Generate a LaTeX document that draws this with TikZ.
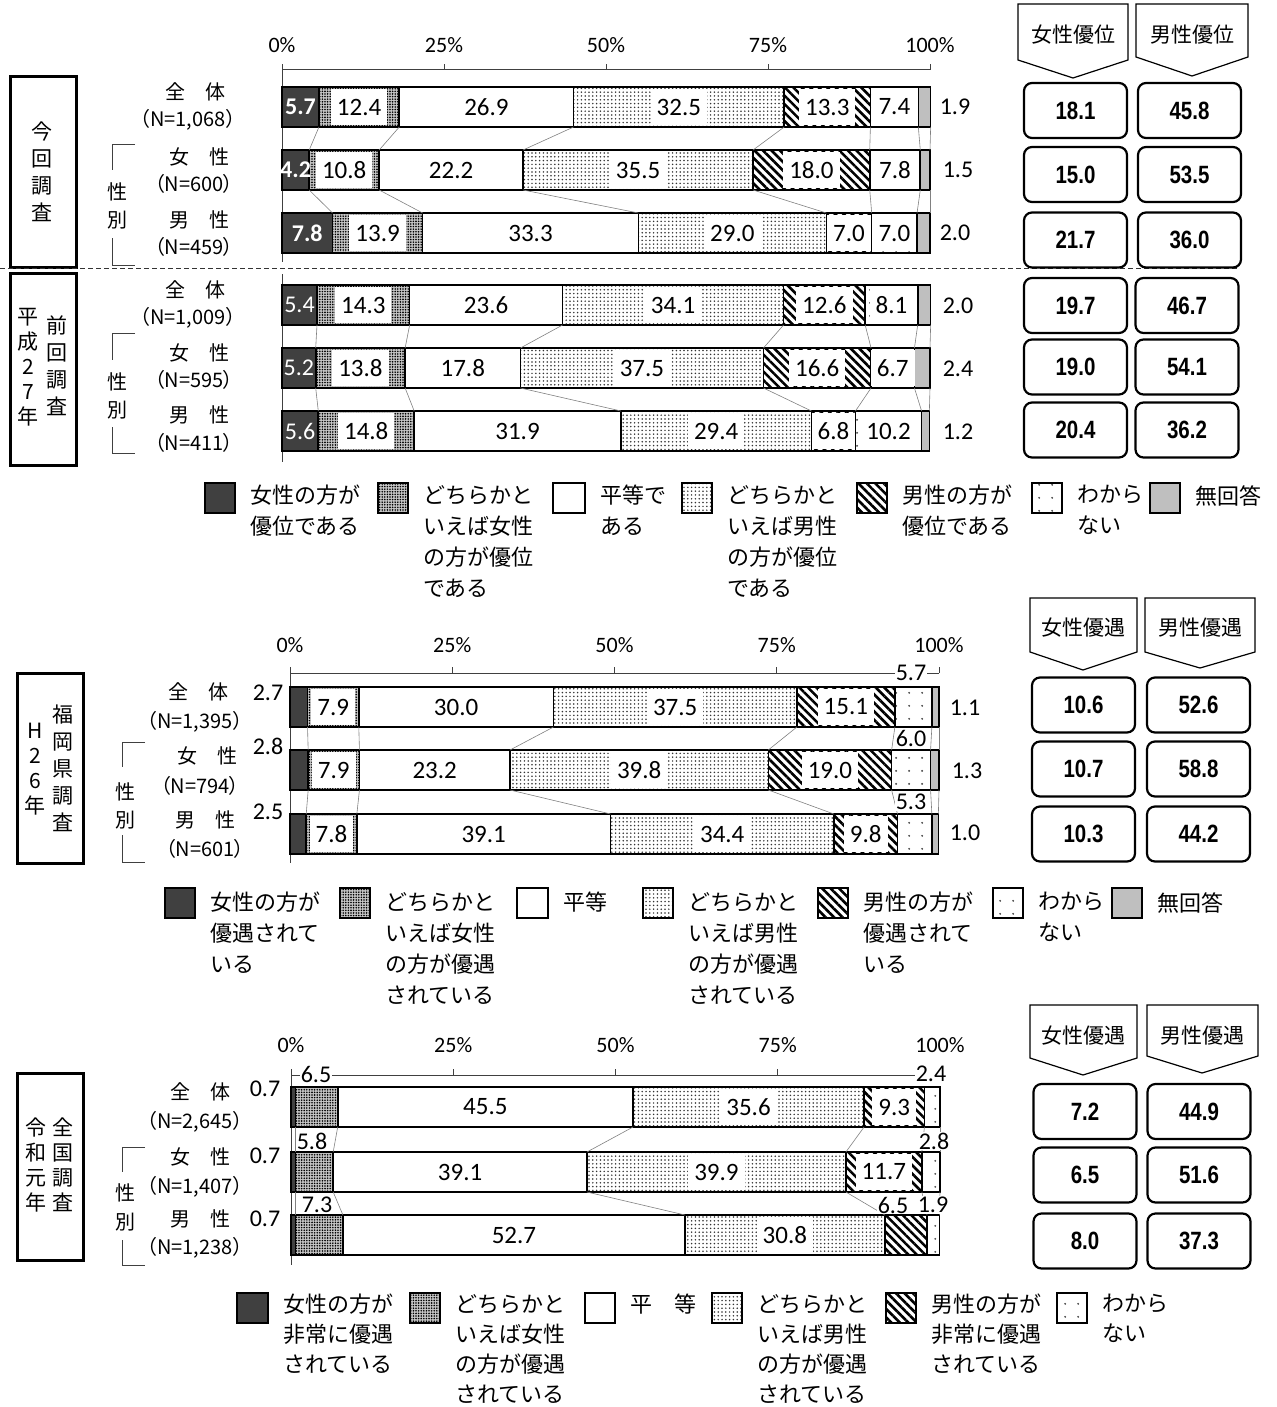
\documentclass[tikz,border=0pt]{standalone}
\usepackage{fontspec}
\usetikzlibrary{patterns.meta}
\newfontfamily\jpf{Noto Sans CJK JP}
\newfontfamily\jpp{Noto Sans CJK JP}[RawFeature=+palt]
\newfontfamily\numf{Carlito}
\newfontfamily\bnumf{Liberation Sans}[FakeStretch=0.82]
\newcommand\fsz[1]{\fontsize{#1}{#1}\selectfont}
\newcommand\barrow[5]{%
  \gdef\cumprev{0}%
  \foreach \v [count=\k] in {#5} {%
    \pgfmathsetmacro\cumnew{\cumprev+\v}%
    \pgfmathsetmacro\xa{#2+\cumprev*\sc}%
    \pgfmathsetmacro\xb{#2+\cumnew*\sc}%
    \draw[seg\k] (\xa,#3) rectangle (\xb,#4);%
    \coordinate (#1-t\k) at (\xb,#3);%
    \coordinate (#1-b\k) at (\xb,#4);%
    \coordinate (#1-c\k) at ({(\xa+\xb)/2},{(#3+#4)/2});%
    \xdef\cumprev{\cumnew}%
  }%
}
\tikzset{
 bl/.style={draw=black, line width=1.6pt},
 seg1/.style={bl, fill=black!75},
 seg2/.style={preaction={fill=black!22}, preaction={pattern={Dots[distance=2.6pt,radius=0.9pt]}, pattern color=black}, bl},
 seg3/.style={bl, fill=white},
 seg4/.style={preaction={fill=white}, preaction={pattern={Dots[distance=3.8pt,radius=0.85pt]}, pattern color=black!80}, bl},
 seg5/.style={preaction={fill=white}, preaction={pattern={Lines[angle=-45,distance=6pt,line width=2.6pt]}, pattern color=black}, bl},
 seg6/.style={preaction={fill=white}, preaction={pattern={Dots[distance=13pt,radius=1.1pt]}, pattern color=black!70}, bl},
 seg7/.style={bl, fill=black!25},
 sline/.style={draw=black!50, line width=0.6pt},
 lb/.style={font=\numf\fsz{25}, fill=white, inner xsep=6pt, inner ysep=0pt, minimum height=36pt},
 lbw/.style={font=\numf\bfseries\fsz{24}, text=white, inner sep=0pt},
 lbd/.style={font=\numf\fsz{24}, text=white, inner sep=0pt},
 ol/.style={font=\numf\fsz{24}, inner sep=1pt},
 olb/.style={font=\numf\fsz{24}, inner sep=1pt, fill=white},
 ax/.style={font=\numf\fsz{22}, inner sep=0pt},
 axl/.style={draw=black!75, line width=1pt},
 rl/.style={font=\jpf\fsz{20}, inner sep=0pt},
 nl/.style={font=\jpp\fsz{20}, inner sep=0pt},
 vt/.style={font=\jpf\fontsize{21}{27}\selectfont, align=center, inner sep=0pt},
 vts/.style={font=\jpf\fontsize{21}{25}\selectfont, align=center, inner sep=0pt},
 lbox/.style={draw=black, line width=3pt},
 brk/.style={draw=black!75, line width=1pt},
 lgt/.style={font=\jpf\fontsize{22}{31}\selectfont, align=left, anchor=north west, inner sep=0pt},
 lgs/.style={font=\jpf\fontsize{22}{30}\selectfont, align=left, anchor=north west, inner sep=0pt},
 hdr/.style={draw=black, line width=1.2pt, fill=white},
 hdt/.style={font=\jpf\fsz{21}, inner sep=0pt},
 vbox/.style={draw=black, line width=2.2pt, rounded corners=8pt, minimum width=103pt, minimum height=55pt, font=\bnumf\bfseries\fsz{25}, inner sep=0pt},
 dsh/.style={draw=black!80, line width=1pt, dash pattern=on 5pt off 3pt},
}
\begin{document}
\begin{tikzpicture}[x=1pt,y=-1pt]
\useasboundingbox (0,0) rectangle (1276,1407);
% ================= SECTION 1 =================
\def\sc{6.48}
\foreach \p/\t in {0/0\%,25/25\%,50/50\%,75/75\%,100/100\%}{
  \node[ax] (s1ax\p) at ({282+\p*\sc},45) {\t};
  \draw[axl] ({282+\p*\sc},70) -- ({282+\p*\sc},64);
}
\draw[axl] (282,70) -- (930,70);
\draw[axl] (282,70) -- (282,262);
\draw[axl] (282,274) -- (282,462);
\barrow{a1}{282}{87}{127}{5.7,12.4,26.9,32.5,13.3,7.4,1.9}
\barrow{a2}{282}{150}{190}{4.2,10.8,22.2,35.5,18.0,7.8,1.5}
\barrow{a3}{282}{213}{253}{7.8,13.9,33.3,29.0,7.0,7.0,2.0}
\barrow{a4}{282}{285}{325}{5.4,14.3,23.6,34.1,12.6,8.1,2.0}
\barrow{a5}{282}{348}{388}{5.2,13.8,17.8,37.5,16.6,6.7,2.4}
\barrow{a6}{282}{411}{451}{5.6,14.8,31.9,29.4,6.8,10.2,1.2}
% ================= SECTION 2 =================
\def\sc{6.49}
\foreach \p/\t in {0/0\%,25/25\%,50/50\%,75/75\%,100/100\%}{
  \node[ax] (s2ax\p) at ({290+\p*\sc},645) {\t};
  \draw[axl] ({290+\p*\sc},673) -- ({290+\p*\sc},667);
}
\draw[axl] (290,673) -- (939,673);
\draw[axl] (290,673) -- (290,863);
\barrow{b1}{290}{687}{727}{2.7,7.9,30.0,37.5,15.1,5.7,1.1}
\barrow{b2}{290}{750}{790}{2.8,7.9,23.2,39.8,19.0,6.0,1.3}
\barrow{b3}{290}{814}{854}{2.5,7.8,39.1,34.4,9.8,5.3,1.0}
% ================= SECTION 3 =================
\foreach \p/\t in {0/0\%,25/25\%,50/50\%,75/75\%,100/100\%}{
  \node[ax] (s3ax\p) at ({291+\p*\sc},1045) {\t};
  \draw[axl] ({291+\p*\sc},1075) -- ({291+\p*\sc},1069);
}
\draw[axl] (291,1075) -- (940,1075);
\draw[axl] (291,1075) -- (291,1265);
\barrow{c1}{291}{1087}{1127}{0.7,6.5,45.5,35.6,9.3,2.4}
\barrow{c2}{291}{1152}{1192}{0.7,5.8,39.1,39.9,11.7,2.8}
\barrow{c3}{291}{1215}{1255}{0.7,7.3,52.7,30.8,6.5,1.9}
% series lines
\foreach \p/\q in {a1/a2,a2/a3,a4/a5,a5/a6,b1/b2,b2/b3}{
  \foreach \k in {1,...,7}{\draw[sline] (\p-b\k) -- (\q-t\k);}
}
\foreach \p/\q in {c1/c2,c2/c3}{
  \foreach \k in {1,...,6}{\draw[sline] (\p-b\k) -- (\q-t\k);}
}
% labels section 1
\node[lbw] (la11) at (a1-c1) {5.7};
\node[lb] (la12) at (a1-c2) {12.4};
\node[lb] (la13) at (a1-c3) {26.9};
\node[lb] (la14) at (a1-c4) {32.5};
\node[lb] (la15) at (a1-c5) {13.3};
\node[lb] (la16) at (a1-c6) {7.4};
\node[ol] (la17) at (955,107) {1.9};
\node[lbw] (la21) at (a2-c1) {4.2};
\node[lb] (la22) at (a2-c2) {10.8};
\node[lb] (la23) at (a2-c3) {22.2};
\node[lb] (la24) at (a2-c4) {35.5};
\node[lb] (la25) at (a2-c5) {18.0};
\node[lb] (la26) at (a2-c6) {7.8};
\node[ol] (la27) at (958,170) {1.5};
\node[lbw] (la31) at (a3-c1) {7.8};
\node[lb] (la32) at (a3-c2) {13.9};
\node[lb] (la33) at (a3-c3) {33.3};
\node[lb] (la34) at (a3-c4) {29.0};
\node[lb] (la35) at (a3-c5) {7.0};
\node[lb] (la36) at (a3-c6) {7.0};
\node[ol] (la37) at (955,233) {2.0};
\node[lbd] (la41) at (a4-c1) {5.4};
\node[lb] (la42) at (a4-c2) {14.3};
\node[lb] (la43) at (a4-c3) {23.6};
\node[lb] (la44) at (a4-c4) {34.1};
\node[lb] (la45) at (a4-c5) {12.6};
\node[lb] (la46) at (a4-c6) {8.1};
\node[ol] (la47) at (958,306) {2.0};
\node[lbd] (la51) at (a5-c1) {5.2};
\node[lb] (la52) at (a5-c2) {13.8};
\node[lb] (la53) at (a5-c3) {17.8};
\node[lb] (la54) at (a5-c4) {37.5};
\node[lb] (la55) at (a5-c5) {16.6};
\node[lb] (la56) at (a5-c6) {6.7};
\node[ol] (la57) at (958,369) {2.4};
\node[lbd] (la61) at (a6-c1) {5.6};
\node[lb] (la62) at (a6-c2) {14.8};
\node[lb] (la63) at (a6-c3) {31.9};
\node[lb] (la64) at (a6-c4) {29.4};
\node[lb] (la65) at (a6-c5) {6.8};
\node[lb] (la66) at (a6-c6) {10.2};
\node[ol] (la67) at (958,432) {1.2};
% labels section 2
\node[ol] (lb11) at (268,693) {2.7};
\node[lb] (lb12) at (b1-c2) {7.9};
\node[lb] (lb13) at (b1-c3) {30.0};
\node[lb] (lb14) at (b1-c4) {37.5};
\node[lb] (lb15) at (b1-c5) {15.1};
\node[olb] (lb16) at (911,673) {5.7};
\node[ol] (lb17) at (965,708) {1.1};
\node[ol] (lb21) at (268,746) {2.8};
\node[lb] (lb22) at (b2-c2) {7.9};
\node[lb] (lb23) at (b2-c3) {23.2};
\node[lb] (lb24) at (b2-c4) {39.8};
\node[lb] (lb25) at (b2-c5) {19.0};
\node[olb] (lb26) at (911,738) {6.0};
\node[ol] (lb27) at (967,771) {1.3};
\node[ol] (lb31) at (268,812) {2.5};
\node[lb] (lb32) at (b3-c2) {7.8};
\node[lb] (lb33) at (b3-c3) {39.1};
\node[lb] (lb34) at (b3-c4) {34.4};
\node[lb] (lb35) at (b3-c5) {9.8};
\node[olb] (lb36) at (911,802) {5.3};
\node[ol] (lb37) at (965,833) {1.0};
% labels section 3
\node[ol] (lc11) at (265,1089) {0.7};
\node[olb] (lc12) at (316,1074) {6.5};
\node[lb] (lc13) at (c1-c3) {45.5};
\node[lb] (lc14) at (c1-c4) {35.6};
\node[lb] (lc15) at (c1-c5) {9.3};
\node[olb] (lc16) at (931,1074) {2.4};
\node[ol] (lc21) at (265,1156) {0.7};
\node[olb] (lc22) at (312,1141) {5.8};
\node[lb] (lc23) at (c2-c3) {39.1};
\node[lb] (lc24) at (c2-c4) {39.9};
\node[lb] (lc25) at (c2-c5) {11.7};
\node[olb] (lc26) at (934,1141) {2.8};
\node[ol] (lc31) at (265,1219) {0.7};
\node[olb] (lc32) at (317,1205) {7.3};
\node[lb] (lc33) at (c3-c3) {52.7};
\node[lb] (lc34) at (c3-c4) {30.8};
\node[olb] (lc35) at (893,1205) {6.5};
\node[olb] (lc36) at (933,1205) {1.9};
% ============ left boxes and row labels ============
\draw[lbox] (10,77) rectangle (76,267);
\node[vt] (t1) at (42,172) {今\\回\\調\\査};
\draw[lbox] (10,273) rectangle (76,465);
\node[vts] (t2a) at (28,367) {平\\成\\2\\7\\年};
\node[vt] (t2b) at (57,366) {前\\回\\調\\査};
\draw[dsh] (0,268) -- (1238,268);
\node[rl] (r1a) at (195,92) {全　体};
\node[nl] (r1b) at (188,120) {（N=1,068）};
\node[rl] (r1c) at (199,157) {女　性};
\node[nl] (r1d) at (194,184) {（N=600）};
\node[rl] (r1e) at (199,220) {男　性};
\node[nl] (r1f) at (194,247) {（N=459）};
\draw[brk] (135,145) -- (112,145) -- (112,170);
\draw[brk] (112,238) -- (112,265) -- (135,265);
\node[rl] (g1a) at (117,192) {性};
\node[rl] (g1b) at (117,220) {別};
\node[rl] (r2a) at (195,290) {全　体};
\node[nl] (r2b) at (188,318) {（N=1,009）};
\node[rl] (r2c) at (199,353) {女　性};
\node[nl] (r2d) at (194,380) {（N=595）};
\node[rl] (r2e) at (199,415) {男　性};
\node[nl] (r2f) at (194,443) {（N=411）};
\draw[brk] (135,333) -- (112,333) -- (112,360);
\draw[brk] (112,427) -- (112,453) -- (135,453);
\node[rl] (g2a) at (117,382) {性};
\node[rl] (g2b) at (117,410) {別};
% section 2 left
\draw[lbox] (17,673) rectangle (83,863);
\node[vts] (t3a) at (35,769) {H\\2\\6\\年};
\node[vt] (t3b) at (63,768) {福\\岡\\県\\調\\査};
\node[rl] (r3a) at (198,692) {全　体};
\node[nl] (r3b) at (195,722) {（N=1,395）};
\node[rl] (r3c) at (207,756) {女　性};
\node[nl] (r3d) at (200,786) {（N=794）};
\node[rl] (r3e) at (205,820) {男　性};
\node[nl] (r3f) at (205,849) {（N=601）};
\draw[brk] (145,742) -- (122,742) -- (122,767);
\draw[brk] (122,835) -- (122,862) -- (145,862);
\node[rl] (g3a) at (125,792) {性};
\node[rl] (g3b) at (125,820) {別};
% section 3 left
\draw[lbox] (17,1073) rectangle (83,1260);
\node[vts] (t4a) at (36,1165) {令\\和\\元\\年};
\node[vts] (t4b) at (63,1165) {全\\国\\調\\査};
\node[rl] (r4a) at (200,1092) {全　体};
\node[nl] (r4b) at (195,1122) {（N=2,645）};
\node[rl] (r4c) at (200,1157) {女　性};
\node[nl] (r4d) at (195,1187) {（N=1,407）};
\node[rl] (r4e) at (200,1219) {男　性};
\node[nl] (r4f) at (195,1248) {（N=1,238）};
\draw[brk] (145,1147) -- (122,1147) -- (122,1172);
\draw[brk] (122,1240) -- (122,1265) -- (145,1265);
\node[rl] (g4a) at (125,1193) {性};
\node[rl] (g4b) at (125,1222) {別};
% ============ right headers and boxes ============
\draw[hdr] (1018,4) -- (1128,4) -- (1128,60) -- (1073,78) -- (1018,60) -- cycle;
\node[hdt] (h1a) at (1073,35) {女性優位};
\draw[hdr] (1136,4) -- (1248,4) -- (1248,57) -- (1192,76) -- (1136,57) -- cycle;
\node[hdt] (h1b) at (1192,35) {男性優位};
\node[vbox] (v11) at (1075.5,110.5) {18.1};
\node[vbox] (v12) at (1189.5,110.5) {45.8};
\node[vbox] (v21) at (1075.5,174.5) {15.0};
\node[vbox] (v22) at (1189.5,174.5) {53.5};
\node[vbox] (v31) at (1075.5,240) {21.7};
\node[vbox] (v32) at (1189.5,240) {36.0};
\node[vbox] (v41) at (1075.5,305.5) {19.7};
\node[vbox] (v42) at (1187,305.5) {46.7};
\node[vbox] (v51) at (1075.5,367) {19.0};
\node[vbox] (v52) at (1187,367) {54.1};
\node[vbox] (v61) at (1075.5,430) {20.4};
\node[vbox] (v62) at (1187,430) {36.2};
\draw[hdr] (1030,598) -- (1137,598) -- (1137,652) -- (1083,670) -- (1030,652) -- cycle;
\node[hdt] (h2a) at (1083,628) {女性優遇};
\draw[hdr] (1145,598) -- (1255,598) -- (1255,652) -- (1200,668) -- (1145,652) -- cycle;
\node[hdt] (h2b) at (1200,628) {男性優遇};
\node[vbox] (w11) at (1083.5,705) {10.6};
\node[vbox] (w12) at (1198.5,705) {52.6};
\node[vbox] (w21) at (1083.5,769) {10.7};
\node[vbox] (w22) at (1198.5,769) {58.8};
\node[vbox] (w31) at (1083.5,834) {10.3};
\node[vbox] (w32) at (1198.5,834) {44.2};
\draw[hdr] (1030,1005) -- (1137,1005) -- (1137,1058) -- (1083,1075) -- (1030,1058) -- cycle;
\node[hdt] (h3a) at (1083,1036) {女性優遇};
\draw[hdr] (1147,1005) -- (1258,1005) -- (1258,1056) -- (1202,1073) -- (1147,1056) -- cycle;
\node[hdt] (h3b) at (1202,1036) {男性優遇};
\node[vbox] (x11) at (1085,1111.5) {7.2};
\node[vbox] (x12) at (1199,1111.5) {44.9};
\node[vbox] (x21) at (1085,1175) {6.5};
\node[vbox] (x22) at (1199,1175) {51.6};
\node[vbox] (x31) at (1085,1241) {8.0};
\node[vbox] (x32) at (1199,1241) {37.3};
% ============ legends ============
\draw[seg1] (205,483) rectangle (235,513);
\node[lgt] (k11) at (250,485) {女性の方が\\優位である};
\draw[seg2] (378,483) rectangle (408,513);
\node[lgt] (k12) at (423,485) {どちらかと\\いえば女性\\の方が優位\\である};
\draw[seg3] (553,483) rectangle (585,513);
\node[lgt] (k13) at (600,485) {平等で\\ある};
\draw[seg4] (682,483) rectangle (712,513);
\node[lgt] (k14) at (727,485) {どちらかと\\いえば男性\\の方が優位\\である};
\draw[seg5] (857,483) rectangle (887,513);
\node[lgt] (k15) at (902,485) {男性の方が\\優位である};
\draw[seg6] (1032,483) rectangle (1062,513);
\node[lgt] (k16) at (1077,485) {わから\\ない};
\draw[seg7] (1150,483) rectangle (1180,513);
\node[lgt] (k17) at (1195,485) {無回答};
\draw[seg1] (165,888) rectangle (195,918);
\node[lgt] (k21) at (210,892) {女性の方が\\優遇されて\\いる};
\draw[seg2] (340,888) rectangle (370,918);
\node[lgt] (k22) at (385,892) {どちらかと\\いえば女性\\の方が優遇\\されている};
\draw[seg3] (517,888) rectangle (548,918);
\node[lgt] (k23) at (563,892) {平等};
\draw[seg4] (643,888) rectangle (673,918);
\node[lgt] (k24) at (688,892) {どちらかと\\いえば男性\\の方が優遇\\されている};
\draw[seg5] (818,888) rectangle (848,918);
\node[lgt] (k25) at (863,892) {男性の方が\\優遇されて\\いる};
\draw[seg6] (993,888) rectangle (1023,918);
\node[lgt] (k26) at (1038,892) {わから\\ない};
\draw[seg7] (1112,888) rectangle (1142,918);
\node[lgt] (k27) at (1157,892) {無回答};
\draw[seg1] (237,1293) rectangle (268,1323);
\node[lgs] (k31) at (283,1294) {女性の方が\\非常に優遇\\されている};
\draw[seg2] (410,1293) rectangle (440,1323);
\node[lgs] (k32) at (455,1294) {どちらかと\\いえば女性\\の方が優遇\\されている};
\draw[seg3] (585,1293) rectangle (615,1323);
\node[lgs] (k33) at (630,1294) {平　等};
\draw[seg4] (712,1293) rectangle (742,1323);
\node[lgs] (k34) at (757,1294) {どちらかと\\いえば男性\\の方が優遇\\されている};
\draw[seg5] (886,1293) rectangle (916,1323);
\node[lgs] (k35) at (931,1294) {男性の方が\\非常に優遇\\されている};
\draw[seg6] (1057,1293) rectangle (1087,1323);
\node[lgs] (k36) at (1102,1294) {わから\\ない};
\end{tikzpicture}
\end{document}
